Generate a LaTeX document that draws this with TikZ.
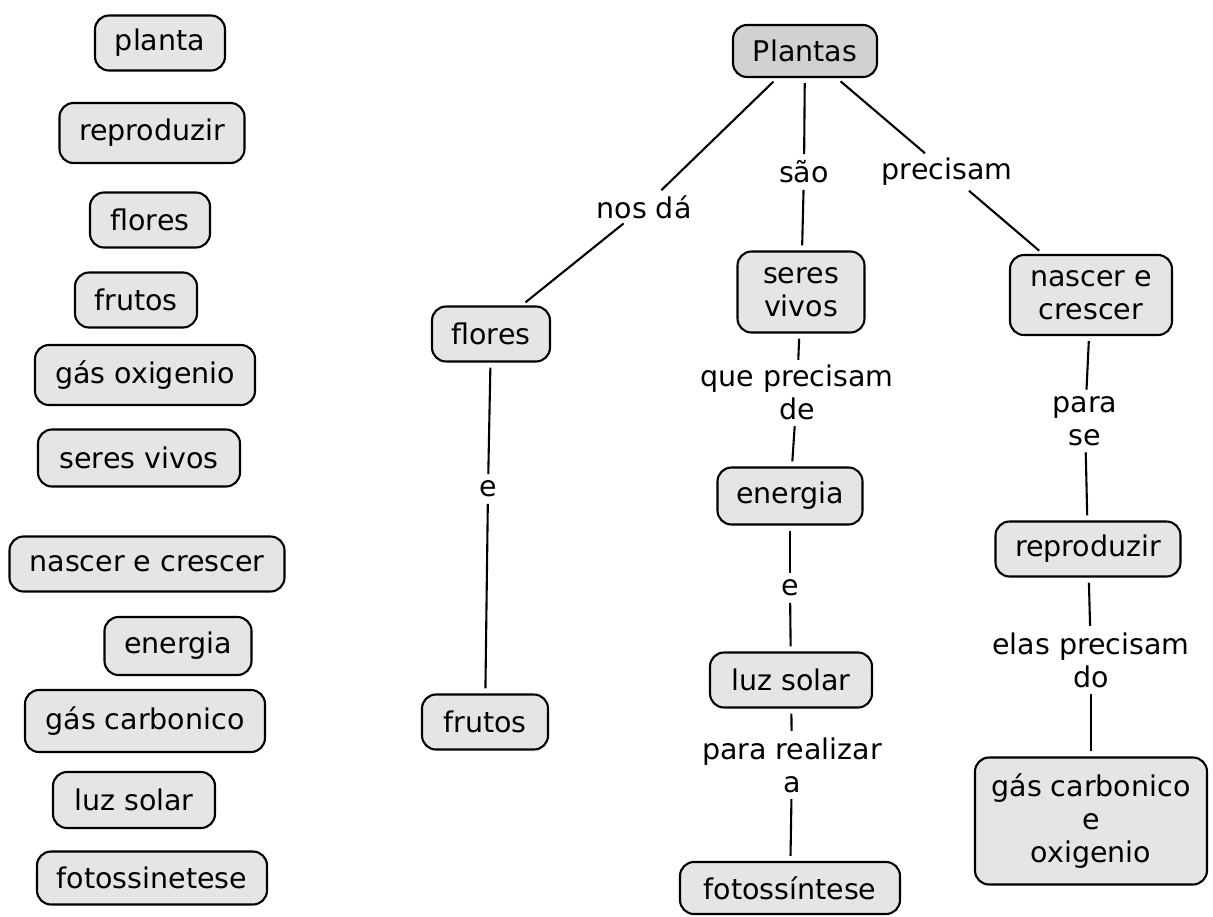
\documentclass[tikz,border=0pt]{standalone}
\usepackage{fontspec}
\setmainfont{DejaVu Sans}
\begin{document}
\begin{tikzpicture}[x=1pt,y=-1pt,
  every node/.style={font=\fontsize{28.5}{33}\selectfont, align=center},
  box/.style={draw=black, line width=2.1pt, rounded corners=14pt, fill=gray!20, minimum height=55pt, inner sep=3pt},
  rootbox/.style={box, fill=gray!36},
  lbl/.style={inner sep=1.5pt},
  conn/.style={line width=2.1pt, shorten <=5pt, shorten >=5pt}]
\useasboundingbox (0,0) rectangle (1213,916);
% left column
\node[box, minimum width=130pt] (lplanta) at (160,43) {planta};
\node[box, minimum width=185pt, minimum height=60pt] (lrepro) at (152,133) {reproduzir};
\node[box, minimum width=120pt] (lflores) at (150,220) {flores};
\node[box, minimum width=122pt] (lfrutos) at (136,300) {frutos};
\node[box, minimum width=220pt, minimum height=60pt] (lgas) at (145,375) {gás oxigenio};
\node[box, minimum width=202pt, minimum height=57pt] (lseres) at (139,458) {seres vivos};
\node[box, minimum width=275pt] (lnascer) at (147,564) {nascer e crescer};
\node[box, minimum width=147pt, minimum height=58pt] (lenergia) at (178,646) {energia};
\node[box, minimum width=240pt, minimum height=62pt] (lcarb) at (145,721) {gás carbonico};
\node[box, minimum width=162pt, minimum height=56pt] (lluz) at (134,800) {luz solar};
\node[box, minimum width=230pt, minimum height=53pt] (lfoto) at (152,878) {fotossinetese};
% map
\node[rootbox, minimum width=144pt, minimum height=52pt] (plantas) at (805,51) {Plantas};
\node[box, minimum width=118pt] (flores) at (491,334) {flores};
\node[box, minimum width=126pt] (frutos) at (485,722) {frutos};
\node[box, minimum width=127pt, minimum height=81pt] (seres) at (801,292) {seres\\vivos};
\node[box, minimum width=162pt, minimum height=80pt] (nascer) at (1091,295) {nascer e\\crescer};
\node[box, minimum width=145pt, minimum height=57pt] (energia) at (790,496) {energia};
\node[box, minimum width=162pt] (luz) at (791,680) {luz solar};
\node[box, minimum width=220pt, minimum height=52pt] (foto) at (790,888) {fotossíntese};
\node[box, minimum width=185pt] (repro) at (1088,549) {reproduzir};
\node[box, minimum width=232pt, minimum height=127pt] (carb) at (1091,821) {gás carbonico\\e\\oxigenio};
% labels
\node[lbl] (nosda) at (644,207) {nos dá};
\node[lbl] (sao) at (804,172) {são};
\node[lbl] (precisam) at (947,172) {precisam};
\node[lbl] (queprec) at (797,392) {que precisam\\de};
\node[lbl] (e1) at (488,489) {e};
\node[lbl] (e2) at (790,588) {e};
\node[lbl] (pararea) at (792,765) {para realizar\\a};
\node[lbl] (parase) at (1085,421) {para\\se};
\node[lbl] (elasprec) at (1091,660) {elas precisam\\do};
% connectors
\draw[conn] (plantas) -- (nosda);
\draw[conn] (nosda) -- (flores.43);
\draw[conn] (plantas) -- (sao);
\draw[conn] (sao) -- (seres);
\draw[conn] (plantas) -- (precisam);
\draw[conn] (precisam) -- (nascer);
\draw[conn, shorten >=3pt] (seres) -- (queprec);
\draw[conn] (queprec) -- (energia);
\draw[conn] (energia) -- (e2);
\draw[conn] (e2) -- (luz);
\draw[conn] (luz) -- (pararea);
\draw[conn] (pararea) -- (foto);
\draw[conn] (flores) -- (e1);
\draw[conn] (e1) -- (frutos);
\draw[conn] (nascer) -- (parase);
\draw[conn] (parase) -- (repro);
\draw[conn] (repro) -- (elasprec);
\draw[conn] (elasprec) -- (carb);
\end{tikzpicture}
\end{document}
